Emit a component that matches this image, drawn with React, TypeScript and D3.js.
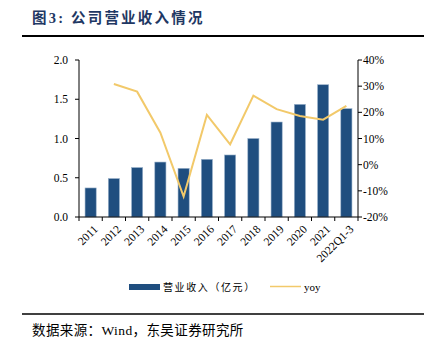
import React from "react";
import * as d3 from "d3";

const categories = ["2011","2012","2013","2014","2015","2016","2017","2018","2019","2020","2021","2022Q1-3"];
const revenue = [0.37, 0.49, 0.63, 0.70, 0.62, 0.735, 0.79, 1.00, 1.21, 1.435, 1.685, 1.38];
const yoy: (number | null)[] = [null, 30.8, 27.9, 12.2, -12.2, 19.0, 7.8, 26.4, 21.2, 18.6, 17.2, 22.5];
const leftTicks = [0, 0.5, 1.0, 1.5, 2.0];
const rightTicks = [-20, -10, 0, 10, 20, 30, 40];

const W = 424, H = 355;
const L = 79, R = 358, T = 60, B = 217;
const serif = "'Liberation Serif','Times New Roman','Noto Sans CJK SC',serif";
const cjk = "'Liberation Serif','Noto Sans CJK SC',serif";
const barColor = "#1f4e7f";
const lineColor = "#f2c96a";

export default function App() {
  const x = d3.scaleBand<string>().domain(categories).range([L, R]).paddingInner(0.52).paddingOuter(0.26);
  const yL = d3.scaleLinear().domain([0, 2]).range([B, T]);
  const yR = d3.scaleLinear().domain([-20, 40]).range([B, T]);
  const boundaries = d3.range(categories.length + 1).map((i) => L + i * (R - L) / categories.length);
  const pts = categories.map((c, i) => ({ c, v: yoy[i] })).filter((d) => d.v !== null) as { c: string; v: number }[];
  const line = d3.line<{ c: string; v: number }>()
    .x((d) => (x(d.c) as number) + x.bandwidth() / 2)
    .y((d) => yR(d.v));
  return (
    <svg width={W} height={H} style={{ position: "absolute", left: 0, top: 0, background: "#fff" }}>
      <text x={32} y={23} fontFamily={cjk} fontWeight="bold" fontSize={14.5} letterSpacing={2.2} fill="#1f3864">图3:  公司营业收入情况</text>
      <line x1={22} x2={424} y1={36} y2={36} stroke="#000" strokeWidth={2} />

      {revenue.map((v, i) => (
        <rect key={categories[i]} x={x(categories[i])} y={yL(v)} width={x.bandwidth()} height={B - yL(v)} fill={barColor} stroke="#9bb3cc" strokeWidth={0.6} />
      ))}
      <path d={line(pts) || ""} fill="none" stroke={lineColor} strokeWidth={2} />

      <line x1={L} x2={L} y1={T} y2={B} stroke="#000" strokeWidth={1} />
      {leftTicks.map((t) => (
        <g key={t}>
          <line x1={L - 4} x2={L} y1={yL(t)} y2={yL(t)} stroke="#000" />
          <text x={L - 11} y={yL(t)} dy="0.35em" textAnchor="end" fontFamily={serif} fontSize={11.5} fill="#000">{t.toFixed(1)}</text>
        </g>
      ))}
      <line x1={R} x2={R} y1={T} y2={B} stroke="#000" strokeWidth={1} />
      {rightTicks.map((t) => (
        <g key={t}>
          <line x1={R} x2={R + 4} y1={yR(t)} y2={yR(t)} stroke="#000" />
          <text x={R + 5} y={yR(t)} dy="0.35em" textAnchor="start" fontFamily={serif} fontSize={11.5} fill="#000">{t}%</text>
        </g>
      ))}
      <line x1={L} x2={R} y1={B} y2={B} stroke="#000" strokeWidth={1} />
      {boundaries.map((b, i) => (
        <line key={i} x1={b} x2={b} y1={B} y2={B + 4} stroke="#000" />
      ))}
      {categories.map((c) => {
        const cx = (x(c) as number) + x.bandwidth() / 2 + 3;
        const cy = B + 8;
        return (
          <text key={c} x={cx} y={cy} transform={`rotate(-45 ${cx} ${cy})`} textAnchor="end" dy="0.6em" fontFamily={serif} fontSize={11.5} fill="#000">{c}</text>
        );
      })}

      <rect x={129} y={284} width={31} height={6} fill={barColor} />
      <text x={163} y={287} dy="0.35em" fontFamily={cjk} fontSize={10} letterSpacing={1.6} fill="#000">营业收入（亿元）</text>
      <line x1={270} x2={301} y1={286.5} y2={286.5} stroke={lineColor} strokeWidth={1.5} />
      <text x={304} y={287} dy="0.35em" fontFamily={serif} fontSize={11} fill="#000">yoy</text>

      <line x1={22} x2={424} y1={314} y2={314} stroke="#000" strokeWidth={1.5} />
      <text x={32} y={335} fontFamily={cjk} fontSize={13.5} letterSpacing={0.4} fill="#000">数据来源：Wind，东吴证券研究所</text>
    </svg>
  );
}
